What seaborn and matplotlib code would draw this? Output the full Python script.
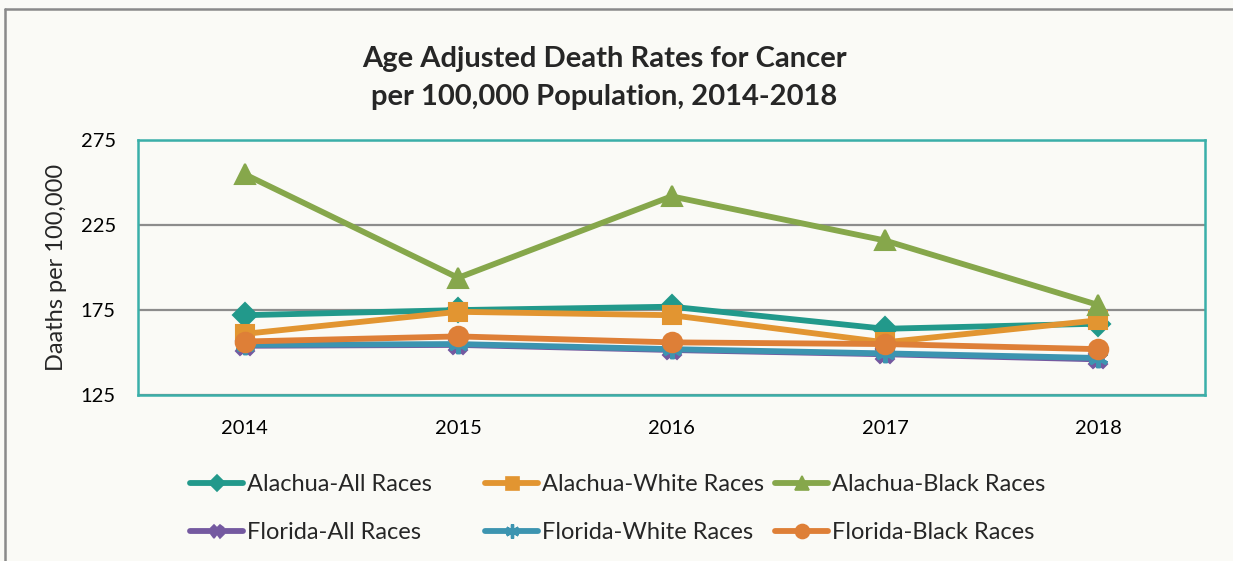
import matplotlib
matplotlib.use("Agg")
import matplotlib.pyplot as plt
import seaborn as sns
import pandas as pd
from matplotlib.lines import Line2D

years = ["2014", "2015", "2016", "2017", "2018"]
alachua_all = [172, 175, 177, 164, 167]
alachua_white = [161, 174, 172, 156, 169]
alachua_black = [255, 194, 242, 216, 178]
florida_all = [154, 154.5, 151.5, 149, 146]
florida_white = [154.5, 155, 152, 149.5, 146.8]
florida_black = [156.5, 159.5, 156, 155, 152]

series_names = ["Alachua-All Races", "Alachua-White Races", "Alachua-Black Races",
                "Florida-All Races", "Florida-White Races", "Florida-Black Races"]
series_values = [alachua_all, alachua_white, alachua_black,
                 florida_all, florida_white, florida_black]

colors = ["#22998B", "#E29531", "#86A74B", "#7459A0", "#3C94B0", "#DE7F37"]
markers = ["D", "s", "^", "X", (6, 2, 0), "o"]
msizes = [12, 13, 14, 13, 14, 14]

rows = []
for name, vals in zip(series_names, series_values):
    for y, v in zip(years, vals):
        rows.append({"Year": y, "Rate": v, "Series": name})
df = pd.DataFrame(rows)

sns.set_theme(style="white")
plt.rcParams["font.family"] = ["Lato", "DejaVu Sans"]

W, H = 1233, 561
bg = "#FAFAF6"
fig = plt.figure(figsize=(W / 100, H / 100), dpi=100, facecolor=bg)
ax = fig.add_axes([138 / W, 1 - 395 / H, (1205 - 138) / W, (395 - 140.3) / H])
ax.set_facecolor(bg)

for i, name in enumerate(series_names):
    sub = df[df["Series"] == name]
    sns.lineplot(data=sub, x="Year", y="Rate", ax=ax, color=colors[i],
                 linewidth=4.2, marker=markers[i], markersize=msizes[i],
                 markeredgecolor=colors[i], markeredgewidth=1.5 if i != 4 else 3.0,
                 legend=False, zorder=3 + i, sort=False)

ax.set_xlim(-0.5, 4.5)
ax.set_ylim(125, 275)
ax.set_yticks([125, 175, 225, 275])
ax.yaxis.grid(True, color="#8C8C8C", linewidth=1.6)
ax.xaxis.grid(False)
ax.set_axisbelow(True)
for s in ax.spines.values():
    s.set_color("#3AAFA9")
    s.set_linewidth(1.8)
ax.tick_params(axis="both", length=0, labelsize=14.5, colors="black")
ax.tick_params(axis="y", pad=16)
ax.tick_params(axis="x", pad=18)
ax.set_xlabel("")
ax.set_ylabel("Daaths per 100,000", fontsize=17)
ax.yaxis.set_label_coords((67 - 138) / (1205 - 138), 0.5)

title_lines = ["Age Adjusted Death Rates for Cancer", "per 100,000 Population, 2014-2018"]
for line, base in zip(title_lines, [67, 105]):
    fig.text(604 / W, 1 - base / H, line, ha="center", va="baseline",
             fontsize=21, fontweight="bold")

handles = [Line2D([0], [0], color=c, linewidth=4.2, marker=m, markersize=ms * 0.72,
                  markeredgecolor=c, markeredgewidth=1.2 if i != 4 else 2.4)
           for i, (c, m, ms) in enumerate(zip(colors, markers, msizes))]

col_x = [190, 485, 775]
for col in range(3):
    idx = [col, col + 3]
    leg = fig.legend([handles[j] for j in idx], [series_names[j] for j in idx],
                     loc="center left", bbox_to_anchor=(col_x[col] / W, 1 - 508.5 / H),
                     frameon=False, fontsize=17, handlelength=2.25,
                     handletextpad=0.15, labelspacing=1.15, borderpad=0,
                     borderaxespad=0)

# outer chart border (top and left visible)
fig.add_artist(Line2D([5 / W, 5 / W], [0, 1 - 9 / H], color="#8A8A8A",
                      linewidth=1.8, transform=fig.transFigure))
fig.add_artist(Line2D([5 / W, 1], [1 - 9 / H, 1 - 9 / H], color="#8A8A8A",
                      linewidth=1.8, transform=fig.transFigure))

fig.savefig("out.png", dpi=100, facecolor=bg)
